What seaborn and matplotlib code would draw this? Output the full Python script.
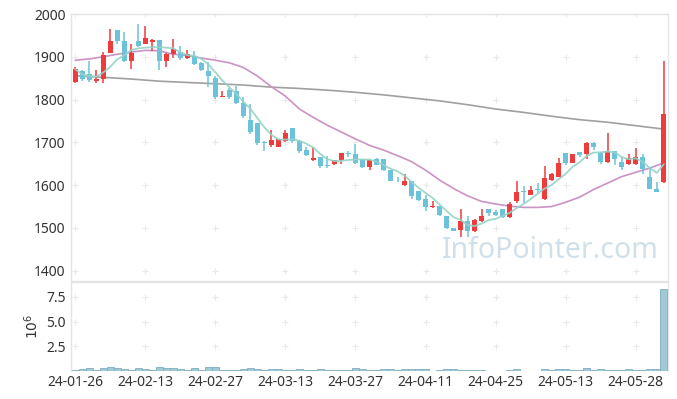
import numpy as np
import pandas as pd
import matplotlib
matplotlib.use("Agg")
import matplotlib.pyplot as plt
import seaborn as sns

# ---------------- data ----------------
opens = [1840,1867,1860,1844,1848,1910,1962,1936,1891,1936,
         1931,1934,1940,1891,1906,1912,1898,1902,1885,1866,
         1850,1806,1823,1820,1793,1752,1746,1701,1695,1690,
         1703,1734,1703,1681,1659,1666,1646,1650,1658,1674,
         1673,1660,1643,1660,1660,1635,1612,1600,1609,1586,
         1568,1550,1552,1529,1500,1495,1516,1492,1517,1544,
         1537,1544,1525,1562,1586,1578,1590,1568,1612,1620,
         1676,1652,1677,1672,1698,1675,1654,1680,1653,1650,
         1650,1666,1620,1591,1607]
closes = [1871,1847,1846,1849,1904,1936,1936,1891,1910,1926,
          1944,1940,1891,1906,1918,1898,1906,1884,1869,1855,
          1805,1809,1806,1792,1762,1725,1698,1698,1705,1708,
          1723,1703,1680,1670,1664,1645,1644,1658,1674,1673,
          1652,1642,1658,1648,1635,1609,1611,1609,1574,1566,
          1549,1552,1531,1500,1494,1517,1492,1519,1529,1535,
          1531,1526,1556,1584,1584,1588,1588,1617,1625,1651,
          1651,1672,1670,1698,1690,1654,1680,1662,1642,1664,
          1666,1638,1591,1584,1766]
highs = [1875,1870,1891,1870,1912,1966,1962,1957,1930,1977,
         1973,1941,1940,1908,1941,1926,1915,1914,1887,1887,
         1855,1820,1826,1832,1805,1790,1746,1703,1730,1709,
         1728,1734,1706,1690,1687,1666,1668,1658,1674,1680,
         1697,1660,1658,1664,1660,1635,1619,1627,1609,1586,
         1576,1562,1552,1529,1500,1545,1527,1520,1544,1544,
         1541,1544,1560,1609,1598,1598,1605,1644,1629,1664,
         1676,1672,1678,1702,1701,1677,1721,1680,1666,1673,
         1687,1673,1643,1607,1891]
lows = [1838,1843,1840,1838,1838,1908,1930,1887,1871,1922,
        1930,1914,1869,1875,1898,1893,1895,1881,1866,1830,
        1801,1805,1802,1789,1756,1720,1695,1680,1690,1689,
        1701,1699,1675,1669,1656,1641,1641,1647,1650,1666,
        1650,1639,1635,1646,1633,1609,1607,1598,1568,1562,
        1539,1547,1529,1497,1492,1480,1480,1490,1513,1527,
        1527,1524,1523,1559,1559,1576,1582,1566,1609,1618,
        1648,1652,1665,1660,1683,1650,1652,1646,1636,1646,
        1648,1625,1590,1584,1604]
volumes_m = [0.15,0.25,0.35,0.15,0.35,0.45,0.30,0.25,0.15,0.35,
             0.25,0.15,0.45,0.30,0.30,0.25,0.15,0.35,0.15,0.45,
             0.45,0.10,0.10,0.15,0.25,0.35,0.25,0.10,0.25,0.25,
             0.10,0.10,0.20,0.10,0.10,0.20,0.10,0.10,0.10,0.10,
             0.35,0.25,0.10,0.10,0.20,0.20,0.10,0.20,0.20,0.20,
             0.20,0.05,0.10,0.20,0.20,0.10,0.10,0.10,0.10,0.02,
             0.02,0.02,0.10,0.20,0.02,0.02,0.02,0.20,0.10,0.20,
             0.20,0.10,0.10,0.30,0.10,0.20,0.10,0.10,0.10,0.20,
             0.10,0.10,0.20,0.20,8.30]
# moving averages (20-day every 2 sessions, 120-day every 4)
ma20_vals = [1892,1895,1900,1906,1911,1915,1914,1906,1903,1897,
             1892,1886,1875,1855,1830,1808,1778,1758,1740,1724,
             1708,1693,1682,1669,1655,1635,1612,1592,1575,1562,
             1556,1551,1548,1548,1550,1560,1572,1590,1605,1620,
             1630,1640,1652]
ma120_vals = [1856,1852,1848,1843,1840,1837,1834,1829,1826,1822,
              1817,1811,1804,1797,1788,1778,1770,1761,1753,1747,
              1739,1731]
tick_labels = ["24-01-26","24-02-13","24-02-27","24-03-13","24-03-27",
               "24-04-11","24-04-25","24-05-13","24-05-28"]

n = len(closes)
df = pd.DataFrame({"i": np.arange(n), "open": opens, "close": closes,
                   "high": highs, "low": lows, "vol": volumes_m})
df["ma5"] = df["close"].rolling(5, min_periods=1).mean()
ma20 = pd.DataFrame({"i": np.arange(0, n, 2), "v": ma20_vals})
ma120 = pd.DataFrame({"i": np.arange(0, n, 4), "v": ma120_vals})

# ---------------- style ----------------
sns.set_theme(style="white")
plt.rcParams["font.family"] = ["Noto Sans", "DejaVu Sans"]

RED = "#ee3b3b"
BLUE = "#6cc3d9"
SPINE = "#e4e4e4"
CROSS = "#e9e9e9"

fig = plt.figure(figsize=(6.77, 3.99), dpi=100)
ax = fig.add_axes([71/677, 1-281/399, (668-71)/677, (281-14)/399])
axv = fig.add_axes([71/677, 1-371/399, (668-71)/677, (371-282)/399], sharex=ax)

up = df["close"] >= df["open"]
colors = np.where(up, RED, BLUE)
body_bottom = np.minimum(df["open"], df["close"])
body_h = np.maximum(np.abs(df["close"] - df["open"]), 1.2)

# moving averages
sns.lineplot(data=ma120, x="i", y="v", ax=ax, color="#a0a0a0", lw=1.2, zorder=2)
sns.lineplot(data=ma20, x="i", y="v", ax=ax, color="#cc92c4", lw=1.2, zorder=2)
sns.lineplot(data=df, x="i", y="ma5", ax=ax, color="#96d3c8", lw=1.3, zorder=4, alpha=0.9)

# candles
ax.vlines(df["i"], df["low"], df["high"], colors=colors, lw=1.1, zorder=3)
ax.bar(df["i"], body_h, bottom=body_bottom, width=0.72, color=colors, lw=0, zorder=3)

ax.set_xlim(-0.6, n - 0.4)
ax.set_ylim(1376, 2000)
ax.set_yticks([1400, 1500, 1600, 1700, 1800, 1900, 2000])
ax.set_xlabel("")
ax.set_ylabel("")
xt = np.arange(0, n, 10)[:len(tick_labels)]

# grid crosses
gx, gy = np.meshgrid(xt, ax.get_yticks())
ax.scatter(gx.ravel(), gy.ravel(), marker="+", s=14, color=CROSS, lw=0.8, zorder=1)

ax.tick_params(axis="x", which="both", length=0, labelbottom=False)
ax.tick_params(axis="y", length=0, labelsize=10, colors="#333333", pad=4)
for s in ax.spines.values():
    s.set_color(SPINE)
    s.set_linewidth(1)

ax.text(0.985, 0.115, "InfoPointer.com", transform=ax.transAxes, ha="right",
        va="center", fontsize=20.5, color="#d0e0ea", zorder=0)

# volume
axv.bar(df["i"], df["vol"], width=1.0, color="#a0c9d8", edgecolor="#80adbf",
        lw=0.6, zorder=3)
axv.set_ylim(0, 9.0)
axv.set_yticks([2.5, 5.0, 7.5])
axv.set_yticklabels(["2.5", "5.0", "7.5"])
gx2, gy2 = np.meshgrid(xt, [2.5, 5.0, 7.5])
axv.scatter(gx2.ravel(), gy2.ravel(), marker="+", s=14, color=CROSS, lw=0.8, zorder=1)
axv.set_xticks(xt)
axv.set_xticklabels(tick_labels)
axv.tick_params(axis="x", length=0, labelsize=10, colors="#333333", pad=3)
axv.tick_params(axis="y", length=0, labelsize=10, colors="#333333", pad=4)
axv.set_ylabel(r"$10^6$", fontsize=10, color="#333333", labelpad=3)
for s in axv.spines.values():
    s.set_color(SPINE)
    s.set_linewidth(1)
axv.spines["bottom"].set_visible(False)

fig.savefig("out.png", dpi=100)
